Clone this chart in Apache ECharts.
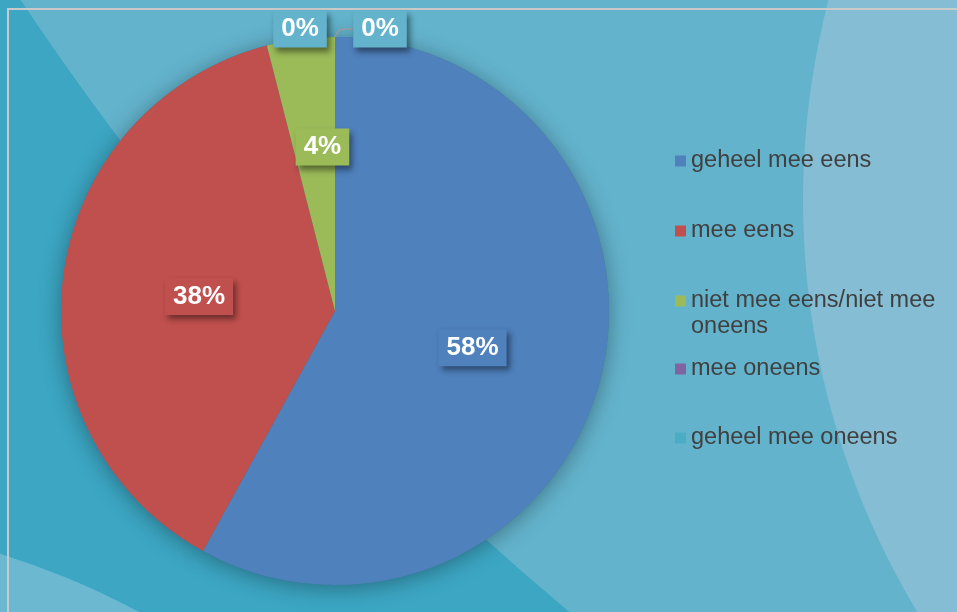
<!DOCTYPE html>
<html>
<head>
<meta charset="utf-8">
<script src="https://cdn.jsdelivr.net/npm/echarts@6/dist/echarts.min.js"></script>
<style>
  html, body { margin: 0; padding: 0; }
  #chart { width: 957px; height: 612px; }
</style>
</head>
<body>
<div id="chart"></div>
<script>
// data
const names = ['geheel mee eens', 'mee eens', 'niet mee eens/niet mee oneens', 'mee oneens', 'geheel mee oneens']
const values = [58, 38, 4, 0, 0]
const colors = ['#4f81bd', '#c0504d', '#9bbb59', '#8064a2', '#4bacc6']

const font = 'Liberation Sans, Arial, sans-serif'
const bgTeal = '#63b3cc'

const pieData = names.map((name, i) => {
  const zero = values[i] === 0
  return {
    name: name,
    value: values[i],
    label: {
      position: zero ? 'outside' : 'inside',
      backgroundColor: zero ? bgTeal : colors[i]
    },
    labelLine: { show: i === 4 }
  }
})

const legendText = {
  color: '#404040',
  fontSize: 23.5,
  lineHeight: 26,
  fontFamily: font
}
const legendBase = {
  orient: 'vertical',
  left: 675,
  padding: 0,
  icon: 'rect',
  itemWidth: 11,
  itemHeight: 11,
  textStyle: legendText
}

const chart = echarts.init(document.getElementById('chart'))
chart.setOption({
  backgroundColor: '#3ca6c3',
  animation: false,
  color: colors,
  graphic: [
    { type: 'circle', z: -10, silent: true, shape: { cx: 2410, cy: -1590, r: 2870 }, style: { fill: bgTeal } },
    { type: 'circle', z: -9, silent: true, shape: { cx: -240, cy: 1320, r: 803 }, style: { fill: '#6cb8d1' } },
    { type: 'circle', z: -9, silent: true, shape: { cx: 1603, cy: 200, r: 800 }, style: { fill: '#84bdd4' } },
    { type: 'rect', z: -8, silent: true, shape: { x: 8, y: 9, width: 1200, height: 800 }, style: { fill: 'none', stroke: '#c9c9c9', lineWidth: 2 } }
  ],
  legend: [
    Object.assign({}, legendBase, { top: 148, itemGap: 44, data: [names[0], names[1]] }),
    Object.assign({}, legendBase, {
      top: 262,
      data: [names[2]],
      formatter: () => '\nniet mee eens/niet mee\noneens'
    }),
    Object.assign({}, legendBase, { top: 356, itemGap: 43, data: [names[3], names[4]] })
  ],
  series: [
    {
      type: 'pie',
      z: 3,
      center: [335, 311],
      radius: 274,
      startAngle: 90,
      clockwise: true,
      avoidLabelOverlap: false,
      itemStyle: { borderWidth: 0 },
      label: {
        show: true,
        formatter: (p) => p.value + '%',
        color: '#fff',
        fontSize: 26,
        fontWeight: 'bold',
        fontFamily: font,
        lineHeight: 26,
        padding: [6, 8, 5, 8],
        shadowColor: 'rgba(0,0,0,0.45)',
        shadowBlur: 6,
        shadowOffsetX: 3,
        shadowOffsetY: 4
      },
      labelLine: {
        length: 4,
        length2: 14,
        smooth: true,
        lineStyle: { color: '#9a9a9a', width: 1.5 }
      },
      labelLayout: (p) => {
        if (p.dataIndex === 0) return { dx: 2, dy: 2 }
        if (p.dataIndex === 1) return { dx: 3, dy: 3 }
        if (p.dataIndex === 2) return { dx: 5, dy: -25 }
        if (p.dataIndex === 3) return { x: 300, y: 29, align: 'center', verticalAlign: 'middle' }
        if (p.dataIndex === 4) return { x: 380, y: 29, align: 'center', verticalAlign: 'middle' }
        return {}
      },
      emphasis: { disabled: true },
      data: pieData
    },
    {
      // shadow under the pie
      type: 'pie',
      z: 2,
      silent: true,
      center: [335, 311],
      radius: 274,
      startAngle: 90,
      label: { show: false },
      labelLine: { show: false },
      itemStyle: {
        color: '#3d7d99',
        shadowColor: 'rgba(0,0,0,0.35)',
        shadowBlur: 22,
        shadowOffsetY: 3
      },
      emphasis: { disabled: true },
      data: names.map((name, i) => ({ name: name, value: values[i] }))
    }
  ]
})
window.addEventListener('resize', () => { chart.resize() })
</script>
</body>
</html>
